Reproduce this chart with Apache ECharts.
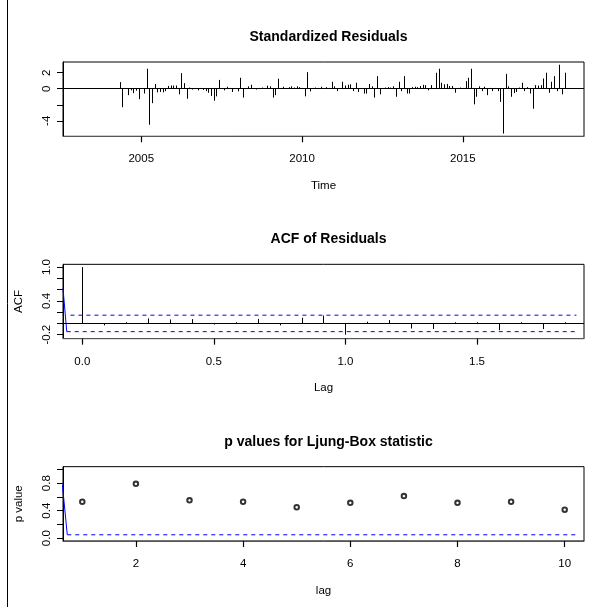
<!DOCTYPE html>
<html>
<head>
<meta charset="utf-8">
<script src="https://cdn.jsdelivr.net/npm/echarts@6/dist/echarts.min.js"></script>
<style>
html, body { margin: 0; padding: 0; background: #fff; }
#chart { width: 605px; height: 607px; }
</style>
</head>
<body>
<div id="chart"></div>
<script>
// monthly standardized residuals, first value at March 2003
const residStart = 2003 + 2 / 12;
const residuals = [
    0, 0, 0, 0, 0, 0, 0, 0, 0, 0, 0, 0, 0,
    0.1, 0.83, -2.3, 0.05, -0.8, -0.2, -0.55, -0.25, -1.3, 0.1, -0.6, 2.5,
    -4.5, -1.8, 0.6, -0.45, -0.4, -0.45, -0.3, 0.35, 0.4, 0.4, 0.4, -0.7,
    1.95, 0.7, -1.25, 0.15, -0.1, 0.1, -0.2, 0.1, -0.15, -0.3, -0.5, -0.9,
    -1.5, -0.95, 1.1, 0.1, -0.2, 0.25, 0.1, -0.4, 0.1, -0.33, 1.37, -1.1,
    0.1, 0.3, 0.5, 0.05, -0.1, 0.1, 0.15, 0.05, 0.37, 0.3, -1.1, -0.8,
    1.25, 0.1, 0.25, 0.1, 0.2, 0.3, 0.15, 0.3, 0.2, 0.1, -0.95, 2.07,
    -0.33, 0.1, 0.15, 0.1, 0.25, 0.1, 0.2, 0.1, 0.87, 0.3, -0.3, 0.1,
    0.87, 0.4, 0.5, 0.55, -0.3, 0.75, -0.4, 0.1, -0.6, -0.6, 0.6, 0.3,
    -1.1, 1.57, -0.7, 0.1, 0.15, 0.2, 0.15, 0.3, -1.0, 0.87, -0.3, 1.57,
    -0.6, -0.6, 0.2, 0.25, 0.2, 0.35, 0.5, 0.45, -0.2, 0.45, 0.1, 2.0,
    2.5, 0.75, 0.55, 0.6, 0.35, 0.35, -0.5, 0.1, 0.15, 0.1, 0.95, 1.37,
    2.5, -1.95, -1.0, 0.3, -0.3, 0.25, -0.8, 0.1, -0.3, 0.1, -0.3, -1.65,
    -5.6, 1.86, 0.3, -1.0, -0.55, -0.4, 0.15, 0.75, -0.3, 0.2, -0.6, -2.5,
    0.45, 0.4, 0.45, 1.28, 2.0, -0.5, 0.87, 1.57, -0.3, 3.0, -0.7, 2.0
];
const residXTicks = [2005, 2010, 2015];
const residYTicks = [-4, -2, 0, 2];
const residYLabels = [-4, 0, 2];

// ACF of residuals, lags 0..22 months (in years)
const acfValues = [1, -0.035, 0.02, 0.088, 0.07, 0.076, -0.02, 0.02, 0.08, -0.035, 0.1, 0.14,
    -0.2, 0.03, 0.06, -0.09, -0.1, 0.02, 0.02, -0.12, 0.02, -0.1, 0.02];
const acfBound = 0.146;
const acfGuide = [[-0.0733, 0.62], [-0.059, -0.146]];
const acfXTicks = [0, 0.5, 1, 1.5];
const acfYTicks = [-0.2, 0, 0.2, 0.4, 0.6, 0.8, 1];
const acfYLabels = [-0.2, 0.4, 1];

// Ljung-Box p values
const lbLags = [1, 2, 3, 4, 5, 6, 7, 8, 9, 10];
const lbPvalues = [0.53, 0.79, 0.55, 0.53, 0.45, 0.514, 0.613, 0.514, 0.53, 0.415];
const lbLevel = 0.05;
const lbGuide = [[0.628, 0.78], [0.72, 0.05]];
const lbXTicks = [2, 4, 6, 8, 10];
const lbYTicks = [0, 0.2, 0.4, 0.6, 0.8, 1];
const lbYLabels = [0, 0.4, 0.8];

const FONT = "'Liberation Sans', Arial, sans-serif";
const PANEL = 202.33;
const lab = { color: '#000', fontFamily: FONT, fontSize: 11.5 };

const residData = residuals.map((v, i) => [residStart + i / 12, v]);
const acfData = acfValues.map((v, i) => [i / 12, v]);
const lbData = lbLags.map((l, i) => [l, lbPvalues[i]]);

function spikes(params, api) {
    const top = api.coord([api.value(0), api.value(1)]);
    const base = api.coord([api.value(0), 0]);
    const x = Math.round(top[0]) + 0.5;
    return {
        type: 'line',
        shape: { x1: x, y1: base[1], x2: x, y2: top[1] },
        style: { stroke: '#000', lineWidth: 1 }
    };
}

function xAxis(idx, min, max, ticks, name, fmt) {
    return {
        type: 'value', gridIndex: idx, min: min, max: max,
        axisLine: { show: true, onZero: false },
        splitLine: { show: false },
        axisTick: { show: true, length: 6, customValues: ticks.slice(), lineStyle: { color: '#000', width: 1.2 } },
        axisLabel: { ...lab, margin: 17, customValues: ticks.slice(), formatter: fmt },
        name: name, nameLocation: 'middle', nameGap: 43.5,
        nameTextStyle: { color: '#000', fontFamily: FONT, fontSize: 11.5 }
    };
}

function yAxis(idx, min, max, ticks, labels, name, fmt) {
    return {
        type: 'value', gridIndex: idx, min: min, max: max,
        axisLine: { show: true, onZero: false, lineStyle: { color: '#000', width: 1 } },
        splitLine: { show: false },
        axisTick: { show: true, length: 6, customValues: ticks.slice(), lineStyle: { color: '#000', width: 1 } },
        axisLabel: { ...lab, margin: 10, rotate: 90, customValues: labels.slice(), formatter: fmt },
        name: name, nameLocation: 'middle', nameGap: 38,
        nameTextStyle: { ...lab }
    };
}

const grid = (i) => ({
    left: 63, width: 521, top: 62 + i * PANEL, height: 74.3,
    show: true, borderColor: '#000', borderWidth: 1
});

const titleStyle = { color: '#000', fontFamily: FONT, fontSize: 14, fontWeight: 'bold' };
const fix1 = (v) => v.toFixed(1);

const chart = echarts.init(document.getElementById('chart'), null, { renderer: 'canvas' });
chart.setOption({
    animation: false,
    title: [
        { text: 'Standardized Residuals', left: 323.5, textAlign: 'center', top: 25, textStyle: titleStyle },
        { text: 'ACF of Residuals', left: 323.5, textAlign: 'center', top: 25 + PANEL, textStyle: titleStyle },
        { text: 'p values for Ljung-Box statistic', left: 323.5, textAlign: 'center', top: 25 + 2 * PANEL, textStyle: titleStyle }
    ],
    grid: [grid(0), grid(1), grid(2)],
    xAxis: [
        xAxis(0, 2002.567, 2018.767, residXTicks, 'Time', (v) => String(v)),
        xAxis(1, -0.0733, 1.9067, acfXTicks, 'Lag', fix1),
        xAxis(2, 0.64, 10.36, lbXTicks, 'lag', (v) => String(v))
    ],
    yAxis: [
        yAxis(0, -5.94, 3.34, residYTicks, residYLabels, '', (v) => String(v)),
        yAxis(1, -0.27, 1.049, acfYTicks, acfYLabels, 'ACF', fix1),
        yAxis(2, -0.04, 1.04, lbYTicks, lbYLabels, 'p value', fix1)
    ],
    graphic: [
        { type: 'line', shape: { x1: 7.5, y1: 0, x2: 7.5, y2: 607 }, style: { stroke: '#000', lineWidth: 1 } }
    ],
    series: [
        {
            type: 'custom', xAxisIndex: 0, yAxisIndex: 0, data: residData, renderItem: spikes, silent: true
        },
        {
            type: 'line', xAxisIndex: 0, yAxisIndex: 0, data: [], symbol: 'none',
            markLine: { silent: true, symbol: 'none', label: { show: false },
                lineStyle: { color: '#000', type: 'solid', width: 1 }, data: [{ yAxis: 0 }] }
        },
        {
            type: 'custom', xAxisIndex: 1, yAxisIndex: 1, data: acfData, renderItem: spikes, silent: true
        },
        {
            type: 'line', xAxisIndex: 1, yAxisIndex: 1, data: acfGuide, symbol: 'none', silent: true,
            lineStyle: { color: '#0000ff', width: 1 },
            markLine: { silent: true, symbol: 'none', label: { show: false },
                lineStyle: { color: '#000', type: 'solid', width: 1 }, data: [{ yAxis: 0 }] }
        },
        {
            type: 'line', xAxisIndex: 1, yAxisIndex: 1, symbol: 'none', silent: true,
            data: [[-0.059, -acfBound], [1.878, -acfBound]],
            lineStyle: { color: '#0000ff', width: 1, type: [4, 4] }
        },
        {
            type: 'line', xAxisIndex: 1, yAxisIndex: 1, symbol: 'none', silent: true,
            data: [[-0.045, acfBound], [1.878, acfBound]],
            lineStyle: { color: '#0000ff', width: 1, type: [4, 4] }
        },
        {
            type: 'scatter', xAxisIndex: 2, yAxisIndex: 2, data: lbData, silent: true,
            symbol: 'emptyCircle', symbolSize: 4.5,
            itemStyle: { color: '#000', borderColor: '#000', borderWidth: 0.8 }
        },
        {
            type: 'line', xAxisIndex: 2, yAxisIndex: 2, data: lbGuide, symbol: 'none', silent: true,
            lineStyle: { color: '#0000ff', width: 1 }
        },
        {
            type: 'line', xAxisIndex: 2, yAxisIndex: 2, symbol: 'none', silent: true,
            data: [[0.72, lbLevel], [10.22, lbLevel]],
            lineStyle: { color: '#0000ff', width: 1, type: [4, 4] }
        }
    ]
});
</script>
</body>
</html>
